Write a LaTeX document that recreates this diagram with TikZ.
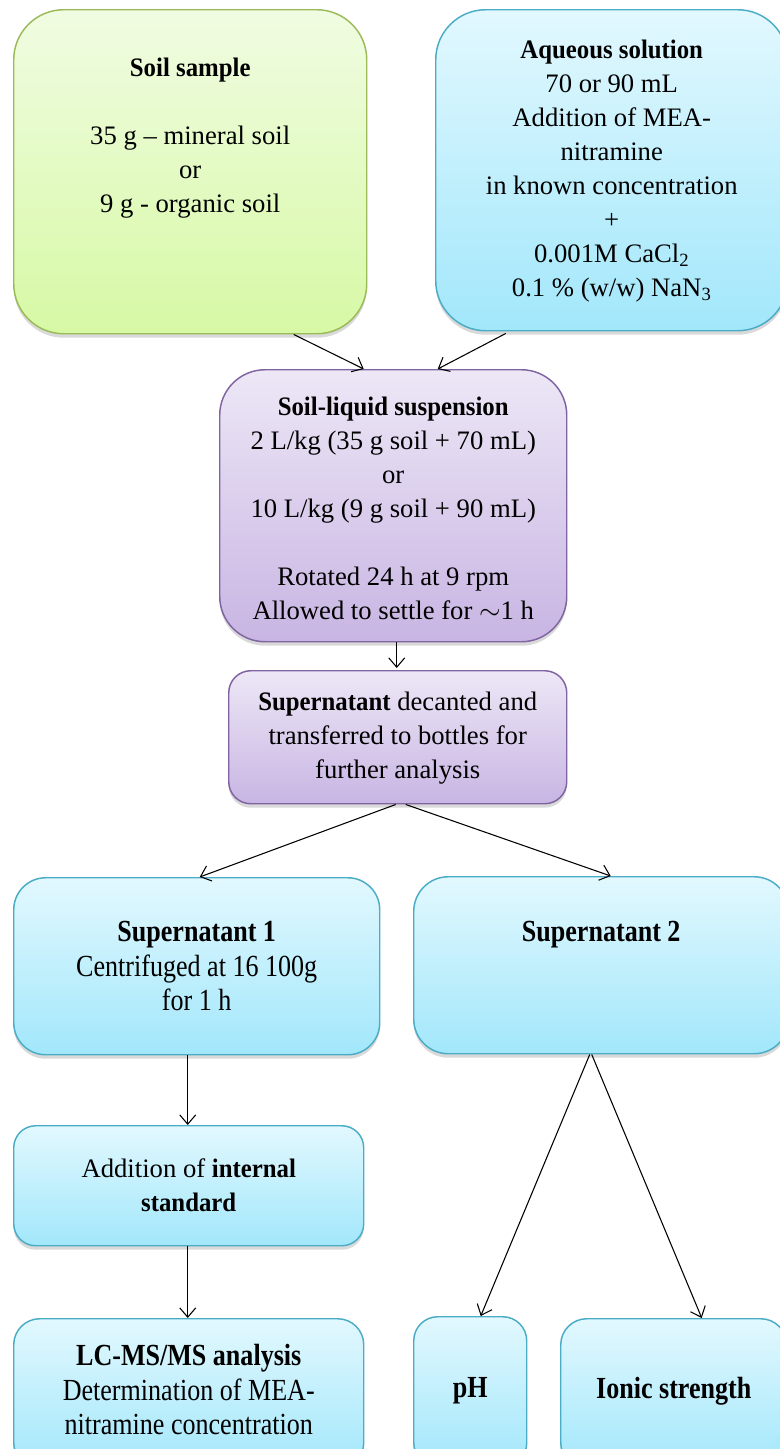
\documentclass[tikz,border=0pt]{standalone}
\usepackage{fontspec}
\setmainfont{Liberation Serif}[BoldFeatures={FakeStretch=0.93}]
\newfontfamily\condfont{Liberation Serif}[FakeStretch=0.85]
\usetikzlibrary{positioning,arrows.meta,shadows,calc}

\definecolor{greenedge}{RGB}{155,187,89}
\definecolor{greentop}{RGB}{240,252,226}
\definecolor{greenbot}{RGB}{215,249,165}
\definecolor{blueedge}{RGB}{75,172,198}
\definecolor{bluetop}{RGB}{226,248,254}
\definecolor{bluebot}{RGB}{162,231,251}
\definecolor{violetedge}{RGB}{128,100,162}
\definecolor{violettop}{RGB}{237,231,246}
\definecolor{violetbot}{RGB}{200,181,227}

\tikzset{
  box/.style={draw, line width=1.1pt, inner sep=0pt, anchor=north west,
    drop shadow={shadow xshift=0pt, shadow yshift=-3pt, opacity=0.3}},
  greenbox/.style={box, draw=greenedge, top color=greentop, bottom color=greenbot},
  bluebox/.style={box, draw=blueedge, top color=bluetop, bottom color=bluebot},
  violetbox/.style={box, draw=violetedge, top color=violettop, bottom color=violetbot},
  txt/.style={align=center, inner sep=0pt, anchor=north,
    font=\fontsize{20}{25.5}\selectfont},
  condtxt/.style={txt, font=\condfont\fontsize{23}{26}\selectfont},
  flow/.style={-{Straight Barb[length=7pt,width=12pt]}, line width=0.8pt},
}

\begin{document}
\begin{tikzpicture}[x=0.75pt, y=-0.75pt]
  \useasboundingbox (0,0) rectangle (779,1449);

  % boxes
  \node[greenbox, rounded corners=37.5pt, minimum width={353*0.75pt}, minimum height={324*0.75pt}] (soil) at (13,9) {};
  \node[bluebox, rounded corners=37.5pt, minimum width={352*0.75pt}, minimum height={321*0.75pt}] (aqueous) at (435,9) {};
  \node[violetbox, rounded corners=34pt, minimum width={347*0.75pt}, minimum height={272*0.75pt}] (susp) at (219,369) {};
  \node[violetbox, rounded corners=16.5pt, minimum width={338*0.75pt}, minimum height={133*0.75pt}] (decant) at (228,670) {};
  \node[bluebox, rounded corners=24pt, minimum width={366*0.75pt}, minimum height={177*0.75pt}] (sup1) at (13,877) {};
  \node[bluebox, rounded corners=26pt, minimum width={375*0.75pt}, minimum height={177*0.75pt}] (sup2) at (413,876) {};
  \node[bluebox, rounded corners=16.5pt, minimum width={350*0.75pt}, minimum height={120*0.75pt}] (addition) at (13,1125) {};
  \node[bluebox, rounded corners=19.5pt, minimum width={350*0.75pt}, minimum height={150*0.75pt}] (lcms) at (13,1318) {};
  \node[bluebox, rounded corners=18pt, minimum width={113*0.75pt}, minimum height={150*0.75pt}] (ph) at (413,1316) {};
  \node[bluebox, rounded corners=19.5pt, minimum width={226*0.75pt}, minimum height={150*0.75pt}] (ionic) at (560,1318) {};

  % texts
  \node[txt] (soiltxt) at ($(soil.north)+(0,49)$)
    {\textbf{Soil sample}\\[25.5pt] 35 g -- mineral soil\\ or\\ 9 g - organic soil};
  \node[txt] (aqueoustxt) at ($(aqueous.north)+(0,31)$)
    {\textbf{Aqueous solution}\\ 70 or 90 mL\\ Addition of MEA-\\ nitramine\\ in known concentration\\ +\\
     0.001M CaCl\textsubscript{2}\\ 0.1 \% (w/w) NaN\textsubscript{3}};
  \node[txt] (susptxt) at ($(susp.north)+(0,28)$)
    {\textbf{Soil-liquid suspension}\\ 2 L/kg (35 g soil + 70 mL)\\ or\\ 10 L/kg (9 g soil + 90 mL)\\[25.5pt]
     Rotated 24 h at 9 rpm\\ Allowed to settle for $\sim$1 h};
  \node[txt] (decanttxt) at ($(decant.north)+(0,22)$)
    {\textbf{Supernatant} decanted and\\ transferred to bottles for\\ further analysis};
  \node[condtxt] (sup1txt) at ($(sup1.north)+(0,44)$)
    {\textbf{Supernatant 1}\\ Centrifuged at 16 100g\\ for 1 h};
  \node[condtxt] (sup2txt) at ($(sup2.north)+(0,45)$) {\textbf{Supernatant 2}};
  \node[txt] (additiontxt) at ($(addition.north)+(0,33)$)
    {Addition of \textbf{internal}\\ \textbf{standard}};
  \node[condtxt] (lcmstxt) at ($(lcms.north)+(0,26)$)
    {\textbf{LC-MS/MS analysis}\\ Determination of MEA-\\ nitramine concentration};
  \node[condtxt] (phtxt) at ($(ph.north)+(0,61)$) {\textbf{pH}};
  \node[condtxt] (ionictxt) at ($(ionic.north)+(0,59)$) {\textbf{Ionic strength}};

  % connectors
  \draw[flow] ($(soil.south)+(103.5,0)$) -- ($(susp.north)+(-29.5,0)$);
  \draw[flow] ($(aqueous.south)+(-106,2)$) -- ($(susp.north)+(44.5,0)$);
  \draw[flow] ($(susp.south)+(3.5,0)$) -- ($(decant.north)+(-1,-2)$);
  \draw[flow] ($(decant.south)+(-2,0)$) -- ($(sup1.north)+(3,0)$);
  \draw[flow] ($(decant.south)+(8,0)$) -- ($(sup2.north)+(9.5,0)$);
  \draw[flow] ($(sup1.south)+(-9,0)$) -- ($(addition.north)+(-1,0)$);
  \draw[flow] ($(addition.south)+(-1,0)$) -- ($(lcms.north)+(-1,0)$);
  \draw[flow] ($(sup2.south)+(-11.5,0)$) -- ($(ph.north)+(10.5,0)$);
  \draw[flow] ($(sup2.south)+(-9.5,0)$) -- ($(ionic.north)+(28,0)$);
\end{tikzpicture}
\end{document}
